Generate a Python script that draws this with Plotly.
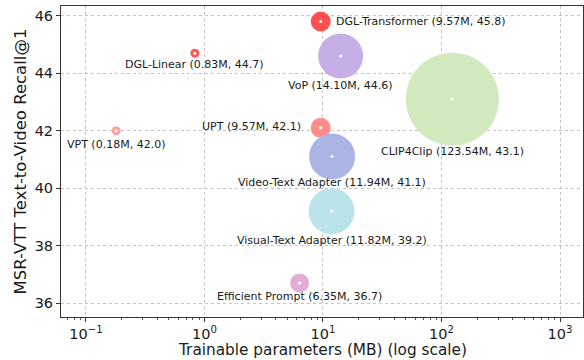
import math
import plotly.graph_objects as go

# ---- data ----
methods = ["DGL-Transformer", "DGL-Linear", "VoP", "CLIP4Clip", "UPT", "VPT",
           "Video-Text Adapter", "Visual-Text Adapter", "Efficient Prompt"]
params_mb = [9.57, 0.83, 14.10, 123.54, 9.57, 0.18, 11.94, 11.82, 6.35]
recall = [45.8, 44.7, 44.6, 43.1, 42.1, 42.0, 41.1, 39.2, 36.7]

x_tick_vals = [0.1, 1, 10, 100, 1000]
x_tick_text = ["10<sup>−1</sup>", "10<sup>0</sup>", "10<sup>1</sup>", "10<sup>2</sup>", "10<sup>3</sup>"]
y_tick_vals = [36, 38, 40, 42, 44, 46]

# ---- styles ----
bubble_px = [20, 9, 45, 93, 20, 9, 46, 46, 19]
colors = ["rgb(255,80,80)", "rgb(255,85,85)", "rgb(198,174,230)",
          "rgb(210,233,189)", "rgb(255,140,140)", "rgb(255,160,160)",
          "rgb(172,180,230)", "rgb(186,228,234)", "rgb(226,172,215)"]
# label placement: (xanchor, xshift, yshift)
label_pos = [("left", 13, 0), ("center", 0, -11), ("center", 0, -29), ("center", 0, -52),
             ("right", -18, 1), ("center", 0, -14), ("center", 0, -26), ("center", 0, -29),
             ("center", 0, -13)]

fig = go.Figure()
fig.add_trace(go.Scatter(
    x=params_mb, y=recall, mode="markers",
    marker=dict(size=bubble_px, color=colors, opacity=1, line=dict(width=0)),
    hoverinfo="skip", showlegend=False))
fig.add_trace(go.Scatter(
    x=params_mb, y=recall, mode="markers",
    marker=dict(size=3, color="white", line=dict(width=0)),
    hoverinfo="skip", showlegend=False))

for m, xv, yv, (xa, xs, ys) in zip(methods, params_mb, recall, label_pos):
    fig.add_annotation(
        x=math.log10(xv), y=yv, xref="x", yref="y",
        text=f"{m} ({xv:.2f}M, {yv:.1f})",
        showarrow=False, xanchor=xa, yanchor="middle",
        xshift=xs, yshift=ys,
        font=dict(family="DejaVu Sans", size=11, color="#1a1a1a"))

fig.add_annotation(
    x=0.5, y=0, xref="paper", yref="paper", yshift=-33, xanchor="center", yanchor="middle",
    text="Trainable parameters (MB) (log scale)", showarrow=False,
    font=dict(family="DejaVu Sans", size=15.3, color="#1a1a1a"))

minor_vals = [k * 10 ** e for e in range(-2, 4) for k in range(2, 10)]

fig.update_layout(
    width=584, height=360,
    margin=dict(l=61, r=1, t=6, b=43),
    paper_bgcolor="white", plot_bgcolor="white",
    font=dict(family="DejaVu Sans", color="#1a1a1a"),
    xaxis=dict(
        type="log", range=[math.log10(0.0616), math.log10(1563)],
        tickvals=x_tick_vals, ticktext=x_tick_text,
        tickfont=dict(size=14.5), ticks="outside", ticklen=4, tickcolor="#333",
        showgrid=True, gridcolor="#c4c4c4", griddash="dot", gridwidth=1,
        showline=True, linecolor="#333", linewidth=1, mirror=True, zeroline=False,
        minor=dict(tickvals=minor_vals, ticks="outside", ticklen=2, tickcolor="#555", showgrid=False),
    ),
    yaxis=dict(
        range=[35.52, 46.34], tickvals=y_tick_vals,
        tickfont=dict(size=14.5), ticks="outside", ticklen=4, tickcolor="#333",
        showgrid=True, gridcolor="#c4c4c4", griddash="dot", gridwidth=1,
        showline=True, linecolor="#333", linewidth=1, mirror=True, zeroline=False,
        title=dict(text="MSR-VTT Text-to-Video Recall@1", font=dict(size=16.5), standoff=3),
    ),
)

fig.write_html("out.html", config={"displayModeBar": False},
               post_script="document.body.style.margin='0px';document.body.style.padding='0px';")
